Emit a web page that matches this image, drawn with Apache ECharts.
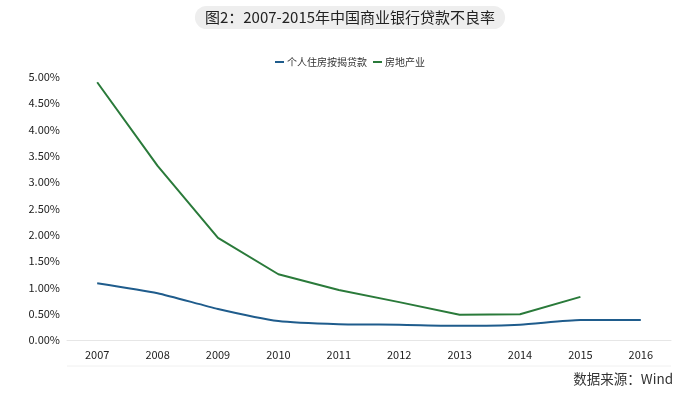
<!DOCTYPE html>
<html><head><meta charset="utf-8">
<script src="https://cdn.jsdelivr.net/npm/echarts@6/dist/echarts.min.js"></script>
<style>html,body{margin:0;padding:0;background:#fff}#c{width:700px;height:394px}</style>
</head><body><div id="c"></div>
<script>
const years = ['2007','2008','2009','2010','2011','2012','2013','2014','2015','2016'];
const mortgage = [1.08, 0.89, 0.59, 0.36, 0.30, 0.29, 0.27, 0.29, 0.38, 0.38];
const realEstate = [4.90, 3.31, 1.94, 1.25, 0.95, 0.72, 0.48, 0.49, 0.82, null];
const seriesNames = ['个人住房按揭贷款', '房地产业'];
const titleText = '图2：2007-2015年中国商业银行贷款不良率';
const sourceText = '数据来源：Wind';

const font = '"Noto Sans CJK SC", "Noto Sans", sans-serif';
const chart = echarts.init(document.getElementById('c'));
chart.setOption({
  animation: false,
  textStyle: { fontFamily: font },
  title: {
    text: titleText,
    left: 'center', top: 6,
    backgroundColor: '#eeeeee',
    borderRadius: 12,
    padding: [4, 10, 4, 10],
    textStyle: { fontSize: 15, fontWeight: 'normal', color: '#222', fontFamily: font }
  },
  legend: {
    top: 52, left: 'center',
    itemWidth: 9, itemHeight: 2, itemGap: 6,
    icon: 'rect',
    textStyle: { fontSize: 10, color: '#333', fontFamily: font, padding: [0,0,0,-2] },
    data: seriesNames
  },
  grid: { left: 67, right: 29, top: 77, bottom: 54, containLabel: false },
  xAxis: {
    type: 'category', data: years, boundaryGap: true,
    axisLine: { lineStyle: { color: '#e6e6e6' } },
    axisTick: { show: false },
    axisLabel: { fontSize: 11, color: '#222', margin: 9, fontFamily: font }
  },
  yAxis: {
    type: 'value', min: 0, max: 5, interval: 0.5,
    axisLine: { show: false }, axisTick: { show: false },
    splitLine: { show: false },
    axisLabel: { fontSize: 11, color: '#222', margin: 7, formatter: v => v.toFixed(2) + '%', fontFamily: font }
  },
  graphic: [
    { type: 'line', shape: { x1: 67, y1: 366, x2: 671, y2: 366 }, style: { stroke: '#f0f0f0', lineWidth: 1 } },
    { type: 'text', right: 27, top: 372, style: { text: sourceText, fill: '#333', font: '13.5px ' + font } }
  ],
  series: [
    { name: seriesNames[0], type: 'line', data: mortgage, smooth: 0.2, symbol: 'none',
      lineStyle: { color: '#1f5c8c', width: 2 }, itemStyle: { color: '#1f5c8c' } },
    { name: seriesNames[1], type: 'line', data: realEstate, symbol: 'none',
      lineStyle: { color: '#2a7a3a', width: 2 }, itemStyle: { color: '#2a7a3a' } }
  ]
});
</script></body></html>
